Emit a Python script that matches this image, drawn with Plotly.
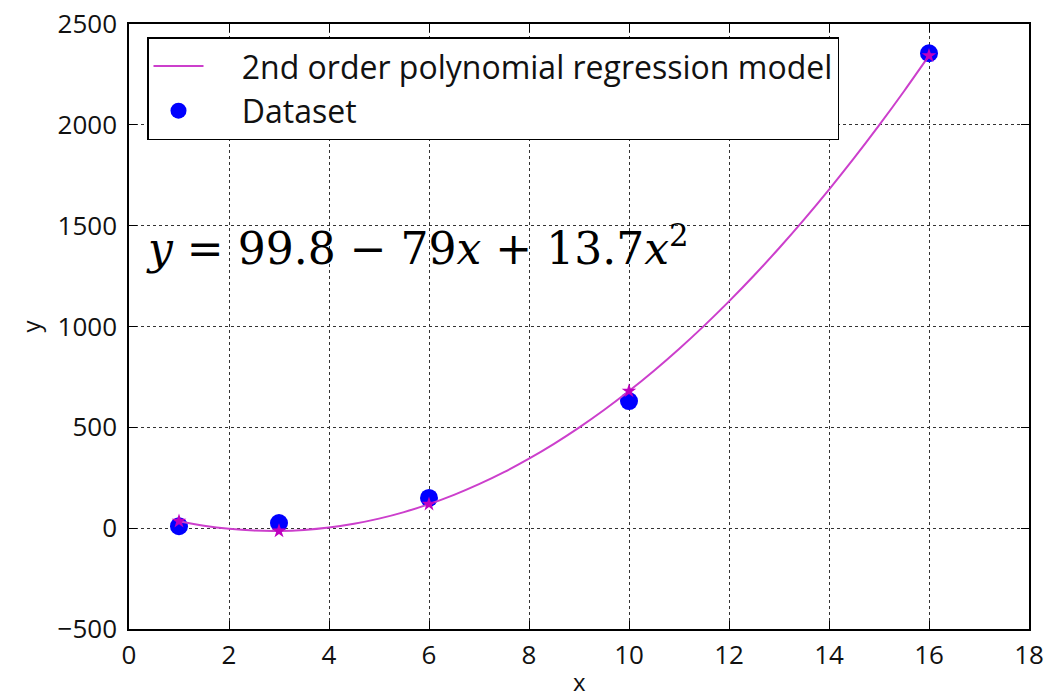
import plotly.graph_objects as go

# Dataset points
data_x = [1, 3, 6, 10, 16]
data_y = [10, 25, 150, 630, 2355]

# Model predictions at the dataset x (star markers)
pred_y = [34.5, -13.9, 119.0, 679.8, 2343.0]

# Model curve read along x
curve_x = [1, 1.5, 2, 2.5, 3, 3.5, 4, 4.5, 5, 5.5, 6, 6.5, 7, 7.5, 8, 8.5, 9, 9.5,
           10, 10.5, 11, 11.5, 12, 12.5, 13, 13.5, 14, 14.5, 15, 15.5, 16]
curve_y = [34.5, 12.1, -3.4, -12.1, -13.9, -8.9, 3.0, 21.7, 47.3, 79.7, 119.0, 165.1,
           218.1, 277.9, 344.6, 418.1, 498.5, 585.7, 679.8, 780.7, 888.5, 1003.1,
           1124.6, 1252.9, 1388.1, 1530.1, 1679.0, 1834.7, 1997.3, 2166.7, 2343.0]

x_ticks = [0, 2, 4, 6, 8, 10, 12, 14, 16, 18]
y_ticks = [-500, 0, 500, 1000, 1500, 2000, 2500]
y_tick_text = ["\u2212500", "0", "500", "1000", "1500", "2000", "2500"]

NB = "\u00a0"

fig = go.Figure()

fig.add_trace(go.Scatter(
    x=data_x, y=data_y, mode="markers", name=NB * 4 + "Dataset",
    marker=dict(color="#0000ff", size=18, line=dict(width=0)),
    legendrank=2,
))
fig.add_trace(go.Scatter(
    x=curve_x, y=curve_y, mode="lines",
    name=NB * 4 + "2nd order polynomial regression model",
    line=dict(color="#cc3fcc", width=2, shape="spline"),
    legendrank=1,
))
fig.add_trace(go.Scatter(
    x=data_x, y=pred_y, mode="markers", showlegend=False,
    marker=dict(symbol="star", color="#bf00bf", size=11, line=dict(width=0)),
))

fig.add_annotation(
    x=0.3, y=1400, xref="x", yref="y", xanchor="left", yanchor="middle",
    text="<i>y</i> = 99.8 \u2212 79<i>x</i> + 13.7<i>x</i><sup>2</sup>",
    showarrow=False,
    font=dict(family="DejaVu Serif", size=44, color="black"),
)

# Axis titles as annotations (fixed positions)
fig.add_annotation(
    x=0.5, y=-0.087, xref="paper", yref="paper", xanchor="center", yanchor="middle",
    text="x", showarrow=False,
    font=dict(family="Open Sans", size=24, color="#111111"),
)
fig.add_annotation(
    x=-0.11, y=0.5, xref="paper", yref="paper", xanchor="center", yanchor="middle",
    text="y", showarrow=False, textangle=-90,
    font=dict(family="Open Sans", size=24, color="#111111"),
)

axis_common = dict(
    showline=True, linecolor="black", linewidth=1.5, mirror="ticks",
    ticks="inside", ticklen=8, tickwidth=1, tickcolor="black",
    showgrid=True, gridcolor="#333333", gridwidth=1, griddash="dot",
    zeroline=False, automargin=False,
    tickfont=dict(family="Open Sans", size=26, color="#111111"),
)

fig.update_xaxes(range=[0, 18], tickvals=x_ticks, ticklabelstandoff=2, **axis_common)
fig.update_yaxes(range=[-500, 2500], tickvals=y_ticks, ticktext=y_tick_text,
                 ticklabelstandoff=5, **axis_common)

fig.update_layout(
    width=1054, height=697,
    margin=dict(l=129, r=25, t=24, b=68),
    plot_bgcolor="white", paper_bgcolor="white",
    font=dict(family="Open Sans", color="black"),
    legend=dict(
        x=0.02, y=0.978, xanchor="left", yanchor="top",
        bordercolor="black", borderwidth=1.5, bgcolor="white",
        font=dict(family="Open Sans", size=32, color="#111111"),
        itemwidth=50,
    ),
)

fig.write_html("out.html")
